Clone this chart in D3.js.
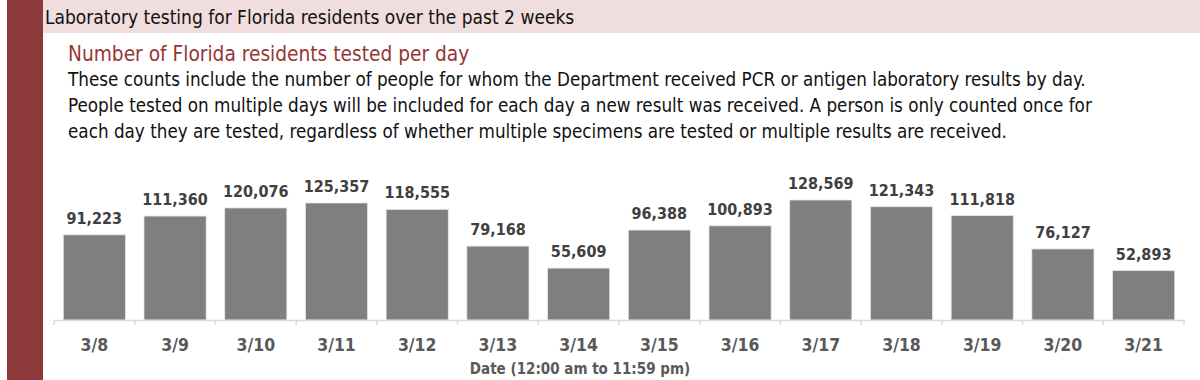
<!DOCTYPE html>
<html>
<head>
<meta charset="utf-8">
<script src="https://cdn.jsdelivr.net/npm/d3@7"></script>
<style>
	body { margin: 0; background: #fff; }
	svg text { font-family: "DejaVu Sans Condensed", "Liberation Sans Narrow", "Roboto", sans-serif; }
</style>
</head>
<body>
<svg id="chart" width="1200" height="380"></svg>
<script>
// data for the chart
var days = ["3/8", "3/9", "3/10", "3/11", "3/12", "3/13", "3/14", "3/15", "3/16", "3/17", "3/18", "3/19", "3/20", "3/21"];
var tested = [91223, 111360, 120076, 125357, 118555, 79168, 55609, 96388, 100893, 128569, 121343, 111818, 76127, 52893];
var notes = [
	"These counts include the number of people for whom the Department received PCR or antigen laboratory results by day.",
	"People tested on multiple days will be included for each day a new result was received. A person is only counted once for",
	"each day they are tested, regardless of whether multiple specimens are tested or multiple results are received."
];

var svg = d3.select("#chart");

// left stripe and header band
svg.append("rect").attr("x", 7).attr("y", 0).attr("width", 36).attr("height", 380).attr("fill", "#8c3a39");
svg.append("rect").attr("x", 43).attr("y", 0).attr("width", 1157).attr("height", 33).attr("fill", "#f0dddd");

svg.append("text")
	.attr("x", 45).attr("y", 24)
	.style("font-size", "19px").attr("fill", "#111")
	.text("Laboratory testing for Florida residents over the past 2 weeks");

svg.append("text")
	.attr("x", 68).attr("y", 61)
	.style("font-size", "20.7px").attr("fill", "#953735")
	.text("Number of Florida residents tested per day");

svg.selectAll("text.note")
	.data(notes)
	.enter()
	.append("text")
	.attr("class", "note")
	.attr("x", 68)
	.attr("y", function(d, i) { return 86 + i * 26; })
	.style("font-size", "18.7px").attr("fill", "#111")
	.text(function(d) { return d; });

// scales
var x = d3.scaleBand()
	.domain(days)
	.range([54, 1184])
	.paddingInner(0.23)
	.paddingOuter(0.115);

var y = d3.scaleLinear()
	.domain([0, 128569])
	.range([320, 200]);

var g = svg.append("g");

g.selectAll("rect.bar")
	.data(tested)
	.enter()
	.append("rect")
	.attr("class", "bar")
	.attr("x", function(d, i) { return x(days[i]); })
	.attr("y", function(d) { return y(d); })
	.attr("width", x.bandwidth())
	.attr("height", function(d) { return y(0) - y(d); })
	.attr("fill", "#7f7f7f")
	.attr("stroke", "#e6e6e6")
	.attr("stroke-width", 0.8);

g.selectAll("text.val")
	.data(tested)
	.enter()
	.append("text")
	.attr("class", "val")
	.attr("x", function(d, i) { return x(days[i]) + x.bandwidth() / 2; })
	.attr("y", function(d) { return y(d) - 11; })
	.attr("text-anchor", "middle")
	.style("font-size", "16px").style("font-weight", "bold")
	.attr("fill", "#404040")
	.text(d3.format(","));

// x axis
var xAxis = d3.axisBottom(x).tickSize(0).tickPadding(0);
var ax = svg.append("g").attr("transform", "translate(0,320)");
ax.call(xAxis);
ax.select(".domain").attr("stroke", "#d9d9d9").attr("stroke-width", 1.5);
ax.selectAll(".tick text")
	.attr("y", 31)
	.attr("dy", 0)
	.style("font-size", "17.5px").style("font-weight", "bold")
	.attr("fill", "#595959");

// tick marks between categories
var bounds = d3.range(days.length + 1).map(function(i) { return 54 + i * x.step(); });
ax.selectAll("line.sep")
	.data(bounds)
	.enter()
	.append("line")
	.attr("class", "sep")
	.attr("x1", function(d) { return d; })
	.attr("x2", function(d) { return d; })
	.attr("y1", 0).attr("y2", 5)
	.attr("stroke", "#d9d9d9").attr("stroke-width", 1.5);

svg.append("text")
	.attr("x", 580).attr("y", 374)
	.attr("text-anchor", "middle")
	.style("font-size", "15px").style("font-weight", "bold")
	.attr("fill", "#595959")
	.text("Date (12:00 am to 11:59 pm)");
</script>
</body>
</html>
